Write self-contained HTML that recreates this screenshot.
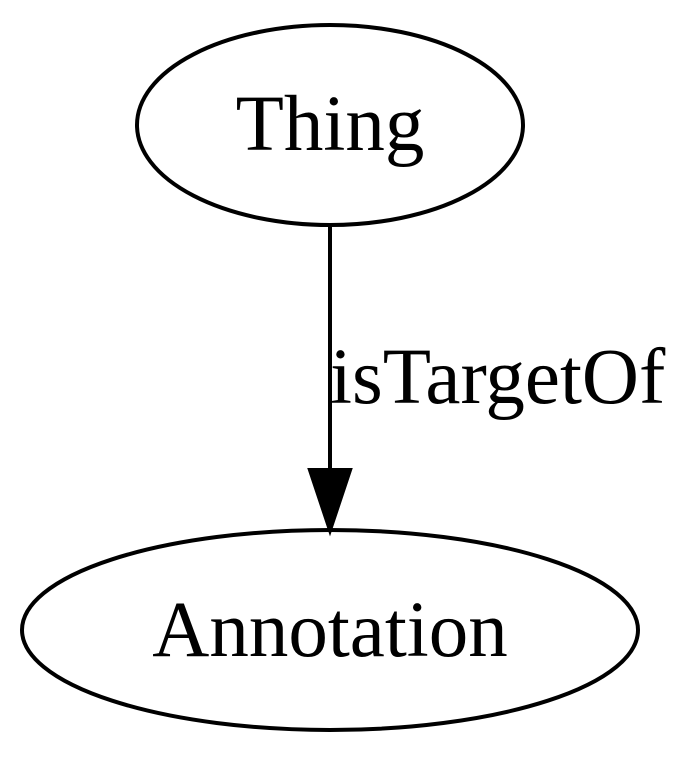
<!DOCTYPE html>
<html><head><style>html,body{margin:0;padding:0;background:#fff;}svg{display:block}</style></head>
<body>
<svg width="700" height="757" viewBox="0 0 700 757" xmlns="http://www.w3.org/2000/svg">
<rect width="700" height="757" fill="#fff"/>
<ellipse cx="330" cy="125" rx="193" ry="100" fill="none" stroke="#000" stroke-width="4"/>
<text x="330" y="150" text-anchor="middle" font-family="Liberation Serif, serif" font-size="79">Thing</text>
<line x1="330" y1="227" x2="330" y2="470" stroke="#000" stroke-width="4"/>
<polygon points="310,470 350,470 330,530" fill="#000" stroke="#000" stroke-width="4"/>
<text x="330" y="403" font-family="Liberation Serif, serif" font-size="79">isTargetOf</text>
<ellipse cx="330" cy="630" rx="308" ry="100" fill="none" stroke="#000" stroke-width="4"/>
<text x="330" y="656" text-anchor="middle" font-family="Liberation Serif, serif" font-size="79">Annotation</text>
</svg>
</body></html>
